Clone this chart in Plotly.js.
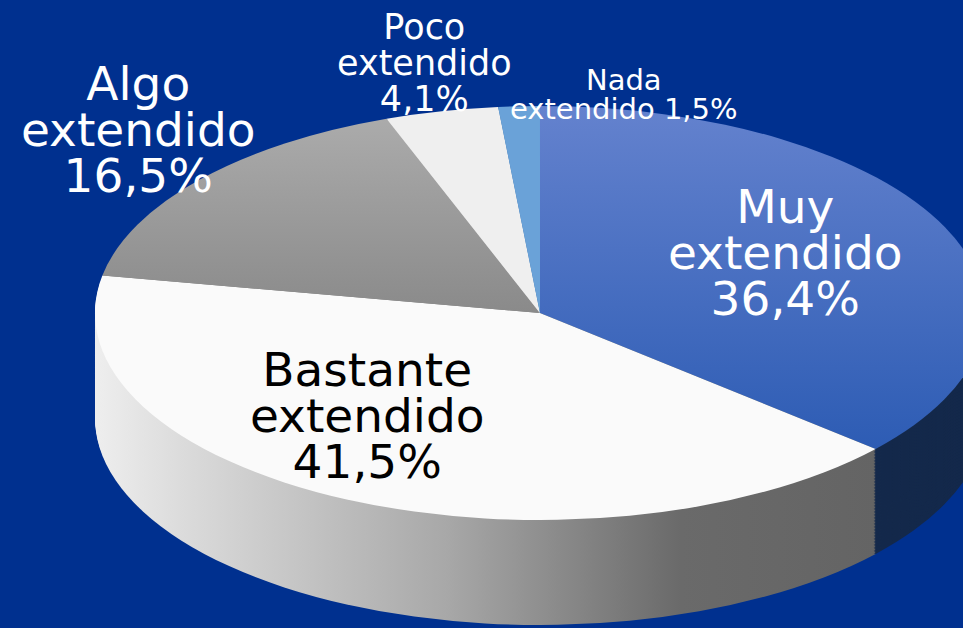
<!DOCTYPE html>
<html>
<head>
<meta charset="utf-8">
<script src="https://cdn.plot.ly/plotly-3.0.1.min.js"></script>
<style>
  html, body { margin: 0; padding: 0; background: #00308F; }
  #chart { width: 963px; height: 628px; }
</style>
</head>
<body>
<div id="chart"></div>
<script>
// ---- data ----
const labels = ['Muy extendido', 'Bastante extendido', 'Algo extendido', 'Poco extendido', 'Nada extendido'];
const values = [36.4, 41.5, 16.5, 4.1, 1.5];
const topColors  = ['#4a72c6', '#fafafa', '#9c9c9c', '#efefef', '#6aa2d8'];
const sideColors = ['#14294b', '#a0a0a0', '#7a7a7a', '#c4c4c4', '#3a6fa8'];

// ---- geometry of the tilted pie (final pixels) ----
const W = 963, H = 628;
const CX = 540, CY = 313;     // centre of the top face
const A = 445, B = 207;       // horizontal / vertical semi-axes
const DEPTH = 105, STEP = 1.5;

const preCX = W / 2;
const sx = A / B;
const tx = CX - sx * preCX;
const css = document.createElement('style');
css.textContent = `.pielayer { transform: matrix(${sx}, 0, 0, 1, ${tx}, 0); }`;
document.head.appendChild(css);

const dx = B / W, dy = B / H;
function pieTrace(offset, colors) {
  const yc = 1 - (CY + offset) / H;
  return {
    type: 'pie',
    labels: labels,
    values: values,
    sort: false,
    direction: 'clockwise',
    rotation: 0,
    textinfo: 'none',
    hoverinfo: 'none',
    showlegend: false,
    marker: { colors: colors, line: { width: 0 } },
    domain: { x: [0.5 - dx, 0.5 + dx], y: [yc - dy, yc + dy] }
  };
}

const traces = [];
for (let d = DEPTH; d > 0; d -= STEP) traces.push(pieTrace(d, sideColors));
traces.push(pieTrace(0, topColors));

// ---- labels ----
function pct(v) { return v.toFixed(1).replace('.', ',') + '%'; }
function lines(i) {
  const w = labels[i].split(' ');
  if (i === 4) return [w[0], w[1] + ' ' + pct(values[i])];
  return [w[0], w[1], pct(values[i])];
}
// x: centre, base: baseline of first line, gap: line distance (px)
const labelStyle = [
  { x: 785, base: 221.7, gap: 45.8, size: 47, color: '#ffffff' },
  { x: 367, base: 385,   gap: 46,   size: 47, color: '#000000' },
  { x: 138, base: 98.3,  gap: 46,   size: 47, color: '#ffffff' },
  { x: 424, base: 38.3,  gap: 36,   size: 35, color: '#ffffff' },
  { x: 624, base: 89,    gap: 29,   size: 29, color: '#ffffff' }
];
const ASCENT = 0.928; // DejaVu Sans ascent (em)
const annotations = labels.map((lab, i) => {
  const st = labelStyle[i];
  const top = st.base - ASCENT * st.size - 1;
  return {
    text: lines(i).join('<br>'), showarrow: false, xref: 'paper', yref: 'paper',
    x: st.x / W, y: 1 - top / H,
    xanchor: 'center', yanchor: 'top', align: 'center',
    font: { family: 'DejaVu Sans', size: st.size, color: st.color }
  };
});

const layout = {
  width: W, height: H,
  margin: { l: 0, r: 0, t: 0, b: 0 },
  paper_bgcolor: '#00308F',
  showlegend: false,
  annotations: annotations
};

function addGrad(defs, id, horiz, stops) {
  const ns = 'http://www.w3.org/2000/svg';
  const g = document.createElementNS(ns, 'linearGradient');
  g.setAttribute('id', id);
  g.setAttribute('x1', '0'); g.setAttribute('y1', '0');
  g.setAttribute('x2', horiz ? '1' : '0'); g.setAttribute('y2', horiz ? '0' : '1');
  stops.forEach(s => {
    const st = document.createElementNS(ns, 'stop');
    st.setAttribute('offset', s[0]);
    st.setAttribute('stop-color', s[1]);
    g.appendChild(st);
  });
  defs.appendChild(g);
}

Plotly.newPlot('chart', traces, layout, { staticPlot: true, displayModeBar: false }).then(gd => {
  const svg = gd.querySelector('.main-svg');
  let defs = svg.querySelector('defs');
  if (!defs) { defs = document.createElementNS('http://www.w3.org/2000/svg', 'defs'); svg.insertBefore(defs, svg.firstChild); }
  addGrad(defs, 'gTopMuy', false, [[0, '#6482ce'], [1, '#2d5cb4']]);
  addGrad(defs, 'gTopAlgo', false, [[0, '#ababab'], [1, '#8a8a8a']]);
  addGrad(defs, 'gSideBas', true, [[0, '#eeeeee'], [0.12, '#dadada'], [0.45, '#a8a8a8'], [0.75, '#6a6a6a'], [1, '#646464']]);
  const topGrad = { 0: 'gTopMuy', 2: 'gTopAlgo' };
  const sideGrad = { 1: 'gSideBas' };
  const tr = gd.querySelectorAll('.pielayer .trace');
  tr.forEach((t, i) => {
    const map = (i === tr.length - 1) ? topGrad : sideGrad;
    t.querySelectorAll('.slice path.surface').forEach((p, j) => {
      if (map[j]) p.style.fill = 'url(#' + map[j] + ')';
    });
  });
  // tighter leading, as in the original slide
  gd.querySelectorAll('.annotation').forEach(a => {
    const idx = +a.getAttribute('data-index');
    const st = labelStyle[idx];
    if (!st) return;
    a.querySelectorAll('text.annotation-text tspan.line').forEach((ts, k) => {
      ts.setAttribute('dy', (k * st.gap) + 'px');
    });
  });
});
</script>
</body>
</html>
